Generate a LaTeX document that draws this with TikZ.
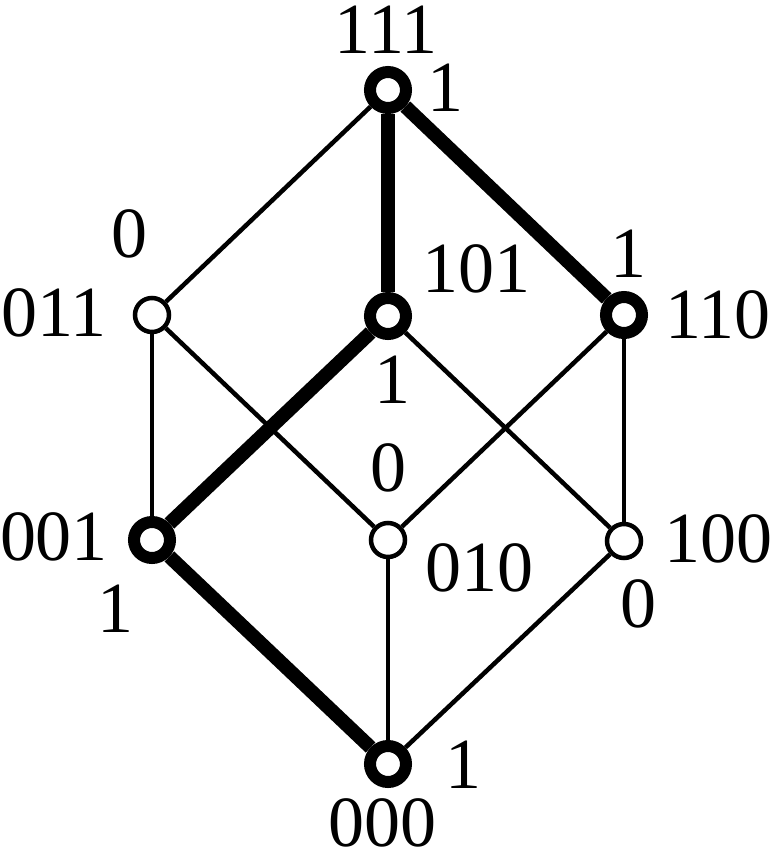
\documentclass[tikz,border=0pt]{standalone}
\usepackage{fontspec}
\setmainfont{Liberation Serif}
\begin{document}
\begin{tikzpicture}[x=1pt,y=-1pt,
  vtx/.style={circle,draw=black,fill=white,inner sep=0pt,minimum size=34pt,line width=4.5pt},
  hvtx/.style={circle,draw=black,fill=white,inner sep=0pt,minimum size=36pt,line width=12pt},
  thin/.style={line width=4.5pt},
  thick/.style={line width=14pt},
  lab/.style={inner sep=0pt,font=\fontsize{72}{72}\selectfont}]
\useasboundingbox (0,0) rectangle (772,855);
% vertices
\node[hvtx] (v111) at (388,90) {};
\node[vtx]  (v011) at (152,315) {};
\node[hvtx] (v101) at (388,316) {};
\node[hvtx] (v110) at (624,315) {};
\node[hvtx] (v001) at (152,540) {};
\node[vtx]  (v010) at (388,540) {};
\node[vtx]  (v100) at (624,541) {};
\node[hvtx] (v000) at (388,764) {};
% thin edges
\draw[thin] (v111) -- (v011);
\draw[thin] (v011) -- (v001);
\draw[thin] (v011) -- (v010);
\draw[thin] (v101) -- (v100);
\draw[thin] (v110) -- (v010);
\draw[thin] (v110) -- (v100);
\draw[thin] (v010) -- (v000);
\draw[thin] (v100) -- (v000);
% thick edges
\draw[thick] (v111) -- (v101);
\draw[thick] (v111) -- (v110);
\draw[thick] (v101) -- (v001);
\draw[thick] (v001) -- (v000);
% labels
\node[lab] (l111) at (386,30) {111};
\node[lab] (f111) at (445,88) {1};
\node[lab] (f011) at (129,234) {0};
\node[lab] (l011) at (54,313) {011};
\node[lab] (l101) at (476,269) {101};
\node[lab] (f101) at (392,380) {1};
\node[lab] (f110) at (628,254) {1};
\node[lab] (l110) at (718,315) {110};
\node[lab] (f010) at (388,468) {0};
\node[lab] (l010) at (479,568) {010};
\node[lab] (l001) at (54,537) {001};
\node[lab] (f001) at (115,609) {1};
\node[lab] (l100) at (718,539) {100};
\node[lab] (f100) at (638,604) {0};
\node[lab] (f000) at (463,765) {1};
\node[lab] (l000) at (382,823) {000};
\end{tikzpicture}
\end{document}
